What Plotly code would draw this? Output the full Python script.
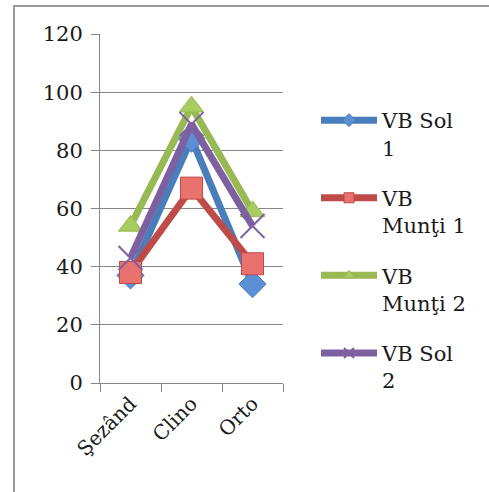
import plotly.graph_objects as go

categories = ["Şezând", "Clino", "Orto"]
series_names = ["VB Sol<br>1", "VB<br>Munţi 1", "VB<br>Munţi 2", "VB Sol<br>2"]
sol1 = [37, 84, 34]
munti1 = [38, 67, 41]
munti2 = [54, 95, 59]
sol2 = [43, 89, 54]
y_ticks = [0, 20, 40, 60, 80, 100, 120]

W, H = 489, 492
L, R, T, B = 100, 283, 34, 383
FONT = "DejaVu Serif"

styles = [
    dict(color="#4A7EBB", fill="#5B8FD6", symbol="diamond", size=21),
    dict(color="#BE4B48", fill="#E9726F", symbol="square", size=22),
    dict(color="#98B954", fill="#A9CC60", symbol="triangle-up", size=21),
    dict(color="#7D60A0", fill="#7D60A0", symbol="x-thin", size=24),
]
data = [sol1, munti1, munti2, sol2]

fig = go.Figure()
for i in range(4):
    s = styles[i]
    mk = dict(symbol=s["symbol"], size=s["size"], color=s["fill"],
              line=dict(color=s["color"], width=1))
    if s["symbol"] == "x-thin":
        mk["line"] = dict(color=s["color"], width=2)
    fig.add_trace(go.Scatter(
        x=categories, y=data[i], name=series_names[i], mode="lines+markers",
        line=dict(color=s["color"], width=7), marker=mk, showlegend=False,
        legendgroup="g%d" % i,
    ))
for i in range(4):
    s = styles[i]
    mk = dict(symbol=s["symbol"], size=10, color=s["fill"],
              line=dict(color=s["color"], width=1))
    if s["symbol"] == "x-thin":
        mk["line"] = dict(color=s["color"], width=2)
    fig.add_trace(go.Scatter(
        x=[None], y=[None], name=series_names[i], mode="lines+markers",
        line=dict(color=s["color"], width=7), marker=mk, showlegend=True,
        legendgroup="g%d" % i,
    ))

fig.update_layout(
    width=W, height=H,
    margin=dict(l=L, r=W - R, t=T, b=H - B, pad=0, autoexpand=False),
    paper_bgcolor="white", plot_bgcolor="white",
    font=dict(family=FONT, color="#1a1a1a", size=20),
    showlegend=True,
    legend=dict(
        x=(316 - L) / (R - L), y=(B - 100) / (B - T), xanchor="left", yanchor="top",
        font=dict(family=FONT, size=21, color="#1a1a1a"), itemwidth=56, valign="top",
        traceorder="grouped", tracegroupgap=20, bgcolor="rgba(0,0,0,0)",
    ),
    shapes=[dict(type="rect", xref="paper", yref="paper",
                 x0=(14 - L) / (R - L), x1=(520 - L) / (R - L),
                 y0=(B - 520) / (B - T), y1=(B - 6) / (B - T),
                 line=dict(color="#9a9a9a", width=2), layer="below")],
)
fig.update_xaxes(
    type="category", range=[-0.5, 2.5], tickson="boundaries",
    ticks="outside", ticklen=8, tickcolor="#868686",
    showline=True, linecolor="#868686", linewidth=1,
    showgrid=False, tickangle=-45, tickfont=dict(family=FONT, size=20),
)
fig.update_yaxes(
    range=[0, 120], tickvals=y_ticks, ticks="outside", ticklen=8, tickcolor="#868686",
    showline=True, linecolor="#868686", linewidth=1,
    showgrid=True, gridcolor="#868686", gridwidth=1, zeroline=False,
    tickfont=dict(family=FONT, size=21), ticklabelstandoff=4,
)
fig.write_html("out.html", config={"displayModeBar": False},
               post_script="document.body.style.margin='0px';")
